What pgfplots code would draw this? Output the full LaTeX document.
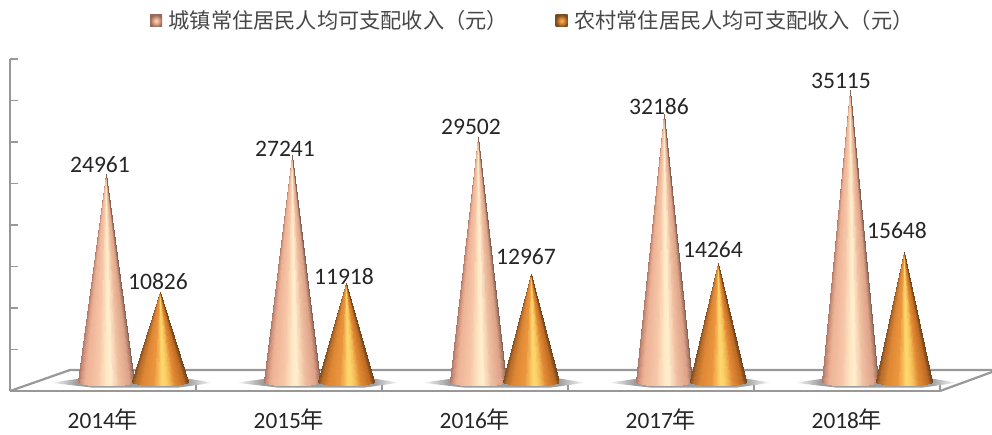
\documentclass[border=0pt]{standalone}
\usepackage{pgfplots}
\usepackage{pgfplotstable}
\usepackage{fontspec}
\usepgfplotslibrary{patchplots}
\pgfplotsset{compat=1.18}
\setmainfont{Carlito}
\newfontfamily\cjk{Noto Sans CJK SC}
\newlength{\ux}\setlength{\ux}{0.75pt}
\definecolor{axgray}{HTML}{989898}
\definecolor{txt}{HTML}{262626}
\pgfdeclarehorizontalshading{shadowfade}{100bp}{color(0bp)=(white); color(25bp)=(white); color(33bp)=(black!38); color(67bp)=(black!38); color(75bp)=(white); color(100bp)=(white)}
\definecolor{lu1}{RGB}{250,215,185}\definecolor{lu2}{RGB}{225,165,135}\definecolor{lu3}{RGB}{150,105,90}
\definecolor{lr1}{RGB}{245,185,90}\definecolor{lr2}{RGB}{215,130,50}\definecolor{lr3}{RGB}{120,75,35}
\pgfdeclareradialshading{legU}{\pgfpoint{0bp}{0bp}}{color(0bp)=(lu1); color(12bp)=(lu2); color(25bp)=(lu3); color(50bp)=(lu3)}
\pgfdeclareradialshading{legR}{\pgfpoint{0bp}{0bp}}{color(0bp)=(lr1); color(12bp)=(lr2); color(25bp)=(lr3); color(50bp)=(lr3)}
\pgfplotsset{
 colormap={urbanmap}{rgb255(0pt)=(165,115,98) rgb255(3pt)=(205,145,122) rgb255(12pt)=(238,178,150) rgb255(35pt)=(246,198,168) rgb255(50pt)=(255,232,196) rgb255(58pt)=(255,238,205) rgb255(72pt)=(240,192,162) rgb255(92pt)=(222,162,136) rgb255(98pt)=(178,128,108) rgb255(100pt)=(130,98,86)},
 colormap={ruralmap}{rgb255(0pt)=(125,75,30) rgb255(4pt)=(180,105,40) rgb255(18pt)=(222,135,52) rgb255(38pt)=(235,150,62) rgb255(54pt)=(255,216,112) rgb255(62pt)=(250,205,100) rgb255(76pt)=(226,138,52) rgb255(94pt)=(190,105,35) rgb255(100pt)=(115,70,30)}
}
% centre in reference pixels, value, colormap, half width in pixels
\newcommand\cone[4]{%
 \gdef\pts{}%
 \pgfmathsetmacro\ax{(#1-10)/186}%
 \edef\ay{\the\numexpr#2+1145\relax}%
 \foreach \i in {0,...,35}{%
  \pgfmathsetmacro\ta{180+5*\i}%
  \pgfmathsetmacro\tb{185+5*\i}%
  \pgfmathsetmacro\xa{(#1+#4*cos(\ta)-10)/186}%
  \pgfmathsetmacro\xb{(#1+#4*cos(\tb)-10)/186}%
  \pgfmathsetmacro\ya{1145+4.0*120.48*sin(\ta)}%
  \pgfmathsetmacro\yb{1145+4.0*120.48*sin(\tb)}%
  \pgfmathsetmacro\ma{(1+cos(\ta))/2}%
  \pgfmathsetmacro\mb{(1+cos(\tb))/2}%
  \pgfmathsetmacro\mc{(\ma+\mb)/2}%
  \xdef\pts{\pts (\xa,\ya)[\ma] (\xb,\yb)[\mb] (\ax,\ay)[\mc]}%
 }%
 \edef\tmp{\noexpand\addplot[forget plot,patch,patch type=triangle,shader=interp,colormap name=#3,point meta=explicit,point meta min=0,point meta max=1] coordinates {\pts};}\tmp
}
\newcommand\shadow[1]{%
 \pgfmathsetmacro\sa{(#1-83-10)/186}\pgfmathsetmacro\sb{(#1-40-10)/186}\pgfmathsetmacro\sc{(#1+45-10)/186}\pgfmathsetmacro\sd{(#1+80-10)/186}%
 \edef\tmp{\noexpand\addplot[forget plot,draw=none,shade,shading=shadowfade] coordinates {(\sa,1000) (\sb,1700) (\sc,1700) (\sd,1000) (\sc,400) (\sb,400) (\sa,1000)};}\tmp
}
\pgfplotstableread{
lx ly lab
100 165 24961
285 149 27241
471 127 29502
659 107 32186
841 81 35115
158 282 10826
344 277 11918
526 257 12967
713 250 14264
897 231 15648
}\labels
\begin{document}
\begin{tikzpicture}
\path[use as bounding box] (-10\ux,-44\ux) rectangle (982\ux,391\ux);
\begin{axis}[
 scale only axis, width=930\ux, height=332\ux,
 xmin=0,xmax=5,ymin=0,ymax=40000,
 clip=false,
 scaled y ticks=false,
 axis x line*=bottom, axis y line*=left,
 axis line style={axgray,line width=2.2\ux,-},
 xtick={0.5,1.5,2.5,3.5,4.5},
 xticklabels={2014{\cjk 年},2015{\cjk 年},2016{\cjk 年},2017{\cjk 年},2018{\cjk 年}},
 xticklabel style={font=\fontsize{17.5pt}{20pt}\selectfont,text=txt,yshift=-18\ux,inner sep=0pt},
 major x tick style={draw=none},
 minor xtick={1,2,3,4,5},
 minor x tick style={axgray,line width=1.6\ux},
 minor tick length=8\ux,
 ytick={0,5000,...,40000},
 yticklabels={},
 y tick style={axgray,line width=1.8\ux},
 major tick length=8\ux,
 tick align=inside,
 legend columns=2,
 legend cell align=left,
 legend style={draw=none,fill=none,at={(0.5625,1.115)},anchor=center,inner sep=0pt,
   font=\cjk\fontsize{15.9pt}{19pt}\selectfont,text=black!72,
   /tikz/every even column/.append style={column sep=45\ux}},
]
\addlegendimage{legend image code/.code={\shade[draw=none,shading=legU] (0,-6\ux) rectangle (12\ux,6\ux);\path[draw=none] (0,0) -- (16\ux,0);}}
\addlegendentry{城镇常住居民人均可支配收入（元）}
\addlegendimage{legend image code/.code={\shade[draw=none,shading=legR] (0,-6\ux) rectangle (12\ux,6\ux);\path[draw=none] (0,0) -- (16\ux,0);}}
\addlegendentry{农村常住居民人均可支配收入（元）}
% floor
\addplot[forget plot,axgray,line width=2.2\ux] coordinates {(0,0) (0.3226,2530) (5.28,2530)};
\addplot[forget plot,axgray,line width=2.2\ux] coordinates {(5,0) (5.28,2290)};
\shadow{133}\shadow{319}\shadow{505}\shadow{691}\shadow{877}
\cone{106}{24961}{urbanmap}{28}
\cone{160}{10826}{ruralmap}{28}
\cone{292}{27241}{urbanmap}{28}
\cone{346}{11918}{ruralmap}{28}
\cone{478}{29502}{urbanmap}{28}
\cone{531}{12967}{ruralmap}{28}
\cone{664}{32186}{urbanmap}{28}
\cone{718}{14264}{ruralmap}{28}
\cone{850}{35115}{urbanmap}{28}
\cone{904}{15648}{ruralmap}{28}
\addplot[forget plot,draw=none,mark=none,
  nodes near coords,point meta=explicit symbolic,
  every node near coord/.style={anchor=center,inner sep=0pt,text=txt,font=\fontsize{17.7pt}{20pt}\selectfont}]
  table[x expr={(\thisrow{lx}-10)/186},y expr={(391-\thisrow{ly})*120.48},meta=lab]{\labels};
\end{axis}
\end{tikzpicture}
\end{document}
